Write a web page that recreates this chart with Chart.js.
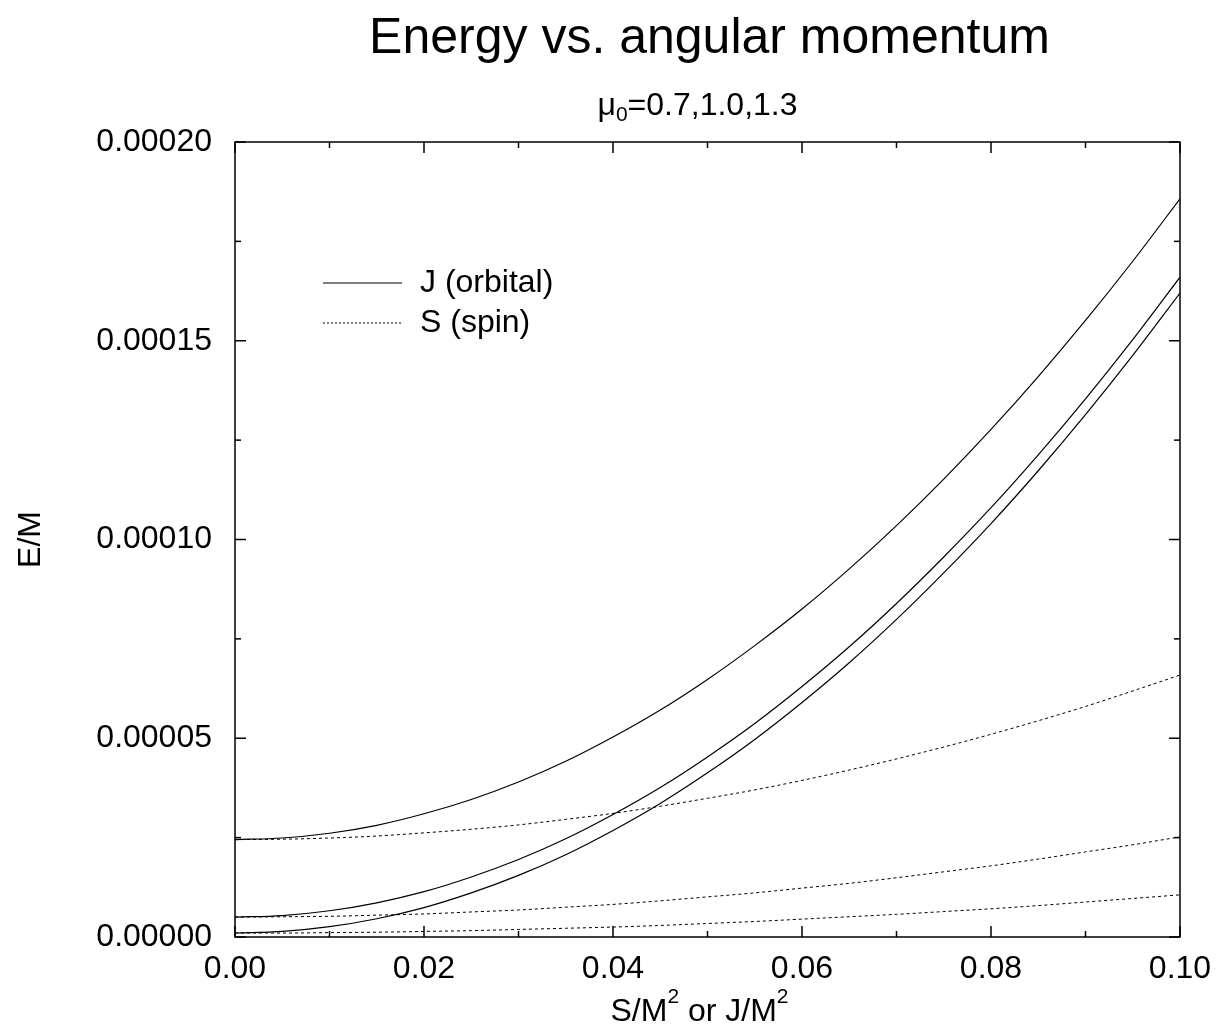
<!DOCTYPE html>
<html><head><meta charset="utf-8">
<script src="https://cdn.jsdelivr.net/npm/chart.js@4.4.1/dist/chart.umd.min.js"></script>
<style>html,body{margin:0;padding:0;background:#fff}</style>
</head><body>
<canvas id="c" width="1221" height="1030"></canvas>
<script>
// ---- data ----
const xValues = [0,0.005,0.01,0.015,0.02,0.025,0.03,0.035,0.04,0.045,0.05,0.055,0.06,0.065,0.07,0.075,0.08,0.085,0.09,0.095,0.1];
// J (orbital), mu0 = three values
const jOrbitalA = [24.5e-6,24.9e-6,26.1e-6,28.1e-6,31.0e-6,34.6e-6,39.0e-6,44.2e-6,50.3e-6,57.1e-6,64.8e-6,73.3e-6,82.5e-6,92.6e-6,103.5e-6,115.2e-6,127.7e-6,141.0e-6,155.1e-6,170.0e-6,185.7e-6];
const jOrbitalB = [5.0e-6,5.4e-6,6.6e-6,8.6e-6,11.4e-6,15.1e-6,19.5e-6,24.7e-6,30.8e-6,37.6e-6,45.3e-6,53.7e-6,63.0e-6,73.0e-6,83.9e-6,95.6e-6,108.0e-6,121.3e-6,135.4e-6,150.3e-6,166.0e-6];
const jOrbitalC = [1.0e-6,1.4e-6,2.6e-6,4.6e-6,7.4e-6,11.1e-6,15.5e-6,20.7e-6,26.8e-6,33.6e-6,41.3e-6,49.7e-6,59.0e-6,69.0e-6,79.9e-6,91.6e-6,104.0e-6,117.3e-6,131.4e-6,146.3e-6,162.0e-6];
// S (spin)
const sSpinA = [24.5e-6,24.6e-6,24.9e-6,25.4e-6,26.2e-6,27.1e-6,28.2e-6,29.6e-6,31.1e-6,32.9e-6,34.9e-6,37.0e-6,39.4e-6,42.0e-6,44.8e-6,47.8e-6,51.0e-6,54.4e-6,58.0e-6,61.9e-6,65.9e-6];
const sSpinB = [5.0e-6,5.1e-6,5.2e-6,5.5e-6,5.8e-6,6.3e-6,6.8e-6,7.5e-6,8.2e-6,9.1e-6,10.1e-6,11.1e-6,12.3e-6,13.5e-6,14.9e-6,16.4e-6,17.9e-6,19.6e-6,21.4e-6,23.2e-6,25.2e-6];
const sSpinC = [1.0e-6,1.0e-6,1.1e-6,1.2e-6,1.4e-6,1.6e-6,1.9e-6,2.2e-6,2.5e-6,2.9e-6,3.4e-6,3.9e-6,4.5e-6,5.1e-6,5.7e-6,6.4e-6,7.1e-6,7.9e-6,8.8e-6,9.7e-6,10.6e-6];

const xMajorTicks = [0,0.02,0.04,0.06,0.08,0.1];
const xMinorTicks = [0.01,0.03,0.05,0.07,0.09];
const yMajorTicks = [0,0.00005,0.0001,0.00015,0.0002];
const yMinorTicks = [0.000025,0.000075,0.000125,0.000175];

const titleText = 'Energy vs. angular momentum';
const legendJ = 'J (orbital)';
const legendS = 'S (spin)';

// ---- chart ----
const FONT = '"Liberation Sans", Arial, Helvetica, sans-serif';
function pts(ys){ return xValues.map((x,i)=>({x:x,y:ys[i]})); }
function solid(ys){ return {data:pts(ys), borderColor:'#000', borderWidth:1.2, pointRadius:0, fill:false}; }
function dotted(ys){ return {data:pts(ys), borderColor:'#000', borderWidth:1, borderDash:[3,3], pointRadius:0, fill:false}; }

const chrome = {
  id:'chrome',
  afterDraw(chart){
    const {ctx, chartArea:a, scales:{x,y}} = chart;
    ctx.save();
    ctx.strokeStyle = '#000';
    ctx.lineWidth = 1.5;
    ctx.setLineDash([]);
    ctx.strokeRect(a.left, a.top, a.right-a.left, a.bottom-a.top);
    const tick = (x1,y1,x2,y2)=>{ctx.beginPath();ctx.moveTo(x1,y1);ctx.lineTo(x2,y2);ctx.stroke();};
    xMajorTicks.forEach(v=>{const p=x.getPixelForValue(v); tick(p,a.bottom,p,a.bottom-11); tick(p,a.top,p,a.top+11);});
    xMinorTicks.forEach(v=>{const p=x.getPixelForValue(v); tick(p,a.bottom,p,a.bottom-6); tick(p,a.top,p,a.top+6);});
    yMajorTicks.forEach(v=>{const p=y.getPixelForValue(v); tick(a.left,p,a.left+11,p); tick(a.right,p,a.right-11,p);});
    yMinorTicks.forEach(v=>{const p=y.getPixelForValue(v); tick(a.left,p,a.left+6,p); tick(a.right,p,a.right-6,p);});

    ctx.fillStyle = '#000';
    const cx = (a.left+a.right)/2;
    // main title
    ctx.font = '50px '+FONT;
    ctx.textAlign = 'center';
    ctx.textBaseline = 'alphabetic';
    ctx.fillText(titleText, cx + 2, 53);

    // subtitle with subscript
    ctx.textAlign = 'left';
    const big = '32px '+FONT, small = '21px '+FONT;
    ctx.font = big; const wMu = ctx.measureText('\u03bc').width;
    ctx.font = small; const wSub = ctx.measureText('0').width;
    ctx.font = big; const wRest = ctx.measureText('=0.7,1.0,1.3').width;
    let sx = cx - 10 - (wMu+wSub+wRest)/2;
    const sb = 115;
    ctx.font = big; ctx.fillText('\u03bc', sx, sb); sx += wMu;
    ctx.font = small; ctx.fillText('0', sx, sb+6); sx += wSub;
    ctx.font = big; ctx.fillText('=0.7,1.0,1.3', sx, sb);

    // x axis title with superscripts
    const parts = [['S/M',false],['2',true],[' or J/M',false],['2',true]];
    let tw = 0;
    parts.forEach(([t,sup])=>{ctx.font = (sup?small:big); tw += ctx.measureText(t).width;});
    let tx = cx - 8 - tw/2;
    const tb = 1021;
    parts.forEach(([t,sup])=>{ctx.font=(sup?small:big); ctx.fillText(t, tx, sup?tb-18:tb); tx += ctx.measureText(t).width;});

    // y axis title
    ctx.save();
    ctx.translate(40, (a.top+a.bottom)/2);
    ctx.rotate(-Math.PI/2);
    ctx.font = big; ctx.textAlign='center';
    ctx.fillText('E/M', 0, 0);
    ctx.restore();

    // legend
    const lx = a.left + 88, ly1 = a.top + 141, ly2 = a.top + 181;
    ctx.lineWidth = 1.2;
    tick(lx, ly1, lx+79, ly1);
    ctx.lineWidth = 1;
    ctx.setLineDash([2,2]);
    tick(lx, ly2, lx+79, ly2);
    ctx.setLineDash([]);
    ctx.font = big; ctx.textBaseline='middle'; ctx.textAlign='left';
    ctx.fillText(legendJ, lx+97, ly1);
    ctx.fillText(legendS, lx+97, ly2);
    ctx.restore();
  }
};

new Chart(document.getElementById('c'), {
  type:'line',
  data:{datasets:[solid(jOrbitalA), solid(jOrbitalB), solid(jOrbitalC), dotted(sSpinA), dotted(sSpinB), dotted(sSpinC)]},
  options:{
    responsive:false, animation:false, devicePixelRatio:1,
    layout:{padding:{top:142, right:41, left:0, bottom:0}},
    plugins:{legend:{display:false}, tooltip:{enabled:false}, title:{display:false}},
    elements:{line:{cubicInterpolationMode:'monotone'}},
    scales:{
      x:{type:'linear', min:0, max:0.1,
         grid:{display:false}, border:{display:false},
         afterBuildTicks:s=>{s.ticks = xMajorTicks.map(v=>({value:v}));},
         ticks:{font:{size:32, family:FONT}, color:'#000', padding:5, maxRotation:0, autoSkip:false, callback:v=>Number(v).toFixed(2)},
         afterFit:s=>{s.height = 93;}},
      y:{type:'linear', min:0, max:0.0002,
         grid:{display:false}, border:{display:false},
         afterBuildTicks:s=>{s.ticks = yMajorTicks.map(v=>({value:v}));},
         ticks:{font:{size:32, family:FONT}, color:'#000', padding:15, autoSkip:false, callback:v=>Number(v).toFixed(5)},
         afterFit:s=>{s.width = 235;}}
    }
  },
  plugins:[chrome]
});
</script>
</body></html>
